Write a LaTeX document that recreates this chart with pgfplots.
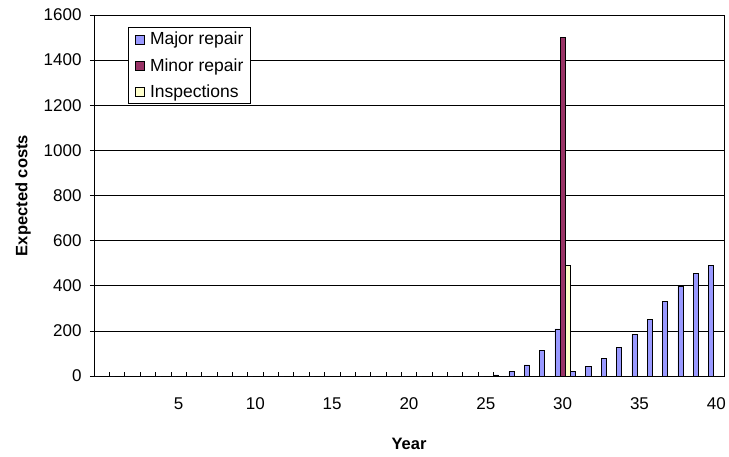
\documentclass[border=0pt]{standalone}
\usepackage{pgfplots}
\pgfplotsset{compat=1.18}
\usepackage{fontspec}
\setmainfont{Liberation Sans}
\definecolor{majorc}{HTML}{9999FF}
\definecolor{minorc}{HTML}{993366}
\definecolor{inspc}{HTML}{FFFFCC}
\pgfplotstableread{
x y
0 0
1 0
2 0
3 0
4 0
5 0
6 0
7 0
8 0
9 0
10 0
11 0
12 0
13 0
14 0
15 0
16 0
17 0
18 0
19 0
20 0
21 0
22 0
23 0
24 0
25 0
26 5
27 19
28 49
29 112
30 209
31 19
32 43
33 79
34 126
35 184
36 252
37 329
38 397
39 453
40 489
}\majortab
\pgfplotstableread{
x y
30 1500
}\minortab
\pgfplotstableread{
x y
30 490
}\insptab
\begin{document}
\begin{tikzpicture}
\path[use as bounding box] (0pt,0pt) rectangle (729pt,456pt);
\begin{axis}[
  at={(94pt,80pt)}, anchor=south west,
  width=630pt, height=361pt, scale only axis,
  xmin=-0.5, xmax=40.5, ymin=0, ymax=1600,
  ybar=0pt, bar width=0.3333,
  xtick={5,10,...,40},
  minor xtick={0.5,1.5,...,39.5},
  ytick={0,200,...,1600},
  xtick pos=bottom, ytick pos=left,
  tick align=outside,
  major tick length=4pt, minor tick length=4pt,
  major x tick style={draw=none},
  minor x tick style={black, line width=0.6pt, yshift=4pt},
  major y tick style={black, line width=0.6pt},
  ymajorgrids,
  major grid style={black, line width=0.6pt},
  axis line style={black, line width=0.8pt},
  /pgf/number format/1000 sep={},
  /pgf/number format/assume math mode=true,
  tick label style={font=\fontsize{17}{20}\selectfont},
  xticklabel style={yshift=-14pt},
  yticklabel style={xshift=-5pt},
  xlabel={Year}, ylabel={Expected costs},
  label style={font=\fontsize{16.5}{19}\selectfont\bfseries},
  xlabel style={at={(axis description cs:0.5,0)}, anchor=center, yshift=-68pt},
  ylabel style={at={(axis description cs:-0.1127,0.5)}, anchor=center},
  legend style={at={(0.054,0.967)}, anchor=north west, draw=black, line width=0.8pt,
    font=\fontsize{17.5}{20}\selectfont, inner xsep=5pt, inner ysep=3pt, row sep=8pt,
    cells={anchor=west}},
  legend image code/.code={\draw[#1, line width=0.6pt] (2pt,-4.5pt) rectangle (11pt,4.5pt); \path (0pt,0pt) (14pt,0pt);},
]
\addplot[fill=majorc, draw=black, line width=0.6pt] table[x=x,y=y] {\majortab};
\addplot[fill=minorc, draw=black, line width=0.6pt] table[x=x,y=y] {\minortab};
\addplot[fill=inspc, draw=black, line width=0.6pt] table[x=x,y=y] {\insptab};
\legend{Major repair, Minor repair, Inspections}
\end{axis}
\end{tikzpicture}
\end{document}
